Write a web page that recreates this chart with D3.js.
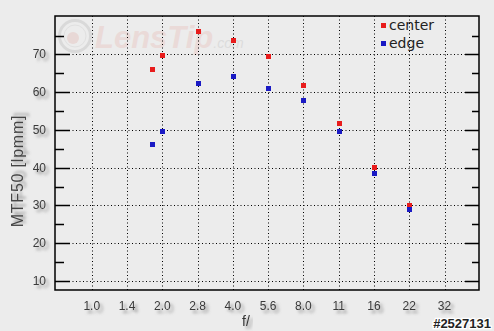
<!DOCTYPE html>
<html>
<head>
<meta charset="utf-8">
<script src="https://cdn.jsdelivr.net/npm/d3@7"></script>
<style>
  body { margin: 0; background: #ececec; }
  svg { display: block; }
  .tick-label { font-family: "Liberation Sans", Arial, sans-serif; font-size: 12px; fill: #3a3a3a; }
  .legend-label { font-family: "DejaVu Sans", sans-serif; font-size: 14px; fill: #222; }
</style>
</head>
<body>
<div id="chart"></div>
<script>
// data
var fStops = [1.8, 2.0, 2.83, 4.0, 5.66, 8.0, 11.3, 16.0, 22.6];
var center = [66.1, 69.8, 76.1, 73.8, 69.5, 61.8, 51.8, 40.1, 30.2];
var edge   = [46.2, 49.7, 62.4, 64.2, 61.0, 57.9, 49.7, 38.5, 29.1];
var xTickLabels = ["1.0", "1.4", "2.0", "2.8", "4.0", "5.6", "8.0", "11", "16", "22", "32"];
var yTicks = [10, 20, 30, 40, 50, 60, 70];
var yMinorTicks = [15, 25, 35, 45, 55, 65, 75];
var seriesNames = ["center", "edge"];
var seriesColors = ["#e81c1c", "#1a1ac4"];

var width = 494, height = 331;
var plot = {left: 55, top: 16, right: 479, bottom: 290};

var svg = d3.select("#chart").append("svg")
  .attr("width", width)
  .attr("height", height);

var defs = svg.append("defs");
var shadow = defs.append("filter").attr("id", "shadow")
  .attr("x", "-30%").attr("y", "-30%").attr("width", "160%").attr("height", "160%");
shadow.append("feDropShadow")
  .attr("dx", 3).attr("dy", 3).attr("stdDeviation", 1.8)
  .attr("flood-color", "#777").attr("flood-opacity", 0.75);

svg.append("rect").attr("width", width).attr("height", height).attr("fill", "#ececec");

var x = d3.scaleLog().base(2)
  .domain([0.697, 44.9])
  .range([plot.left, plot.right]);

var y = d3.scaleLinear()
  .domain([7.6, 80.2])
  .range([plot.bottom, plot.top]);

var xTickVals = xTickLabels.map(function(d, i){ return Math.pow(Math.SQRT2, i); });

// watermark
var wm = svg.append("g");
wm.append("circle").attr("cx", 75).attr("cy", 36).attr("r", 15.5)
  .attr("fill", "none").attr("stroke", "#d9d9d9").attr("stroke-width", 3);
wm.append("circle").attr("cx", 75).attr("cy", 36).attr("r", 11)
  .attr("fill", "none").attr("stroke", "#e0e0e0").attr("stroke-width", 1);
wm.append("circle").attr("cx", 73).attr("cy", 38).attr("r", 6)
  .attr("fill", "#e8d8d6");
var wmText = wm.append("text").attr("x", 95).attr("y", 48)
  .attr("font-family", "Liberation Sans, Arial, sans-serif")
  .attr("font-style", "italic");
wmText.append("tspan")
  .attr("font-size", 31).attr("font-weight", "bold")
  .attr("fill", "#eadad8")
  .text("LensTip");
wmText.append("tspan")
  .attr("font-size", 14)
  .attr("fill", "#dcdcdc")
  .text(".com");

// grid
var grid = svg.append("g")
  .attr("stroke", "#000")
  .attr("stroke-width", 1)
  .attr("stroke-dasharray", "1,2.5");

grid.selectAll(".hgrid")
  .data(yTicks)
  .enter().append("line")
    .attr("x1", plot.left).attr("x2", plot.right)
    .attr("y1", function(d){ return Math.round(y(d)) + 0.5; })
    .attr("y2", function(d){ return Math.round(y(d)) + 0.5; });

grid.selectAll(".vgrid")
  .data(xTickVals)
  .enter().append("line")
    .attr("x1", function(d){ return Math.round(x(d)) + 0.5; })
    .attr("x2", function(d){ return Math.round(x(d)) + 0.5; })
    .attr("y1", plot.top).attr("y2", plot.bottom);

// ticks left & right
var ticks = svg.append("g").attr("stroke", "#000").attr("stroke-width", 1.5);
ticks.selectAll(".lmaj").data(yTicks).enter().append("line")
  .attr("x1", plot.left).attr("x2", plot.left + 15)
  .attr("y1", function(d){ return Math.round(y(d)) + 0.5; })
  .attr("y2", function(d){ return Math.round(y(d)) + 0.5; });
ticks.selectAll(".lmin").data(yMinorTicks).enter().append("line")
  .attr("x1", plot.left).attr("x2", plot.left + 9)
  .attr("y1", function(d){ return Math.round(y(d)) + 0.5; })
  .attr("y2", function(d){ return Math.round(y(d)) + 0.5; });
ticks.selectAll(".rmaj").data(yTicks).enter().append("line")
  .attr("x1", plot.right - 14).attr("x2", plot.right)
  .attr("y1", function(d){ return Math.round(y(d)) + 0.5; })
  .attr("y2", function(d){ return Math.round(y(d)) + 0.5; });
ticks.selectAll(".rmin").data(yMinorTicks).enter().append("line")
  .attr("x1", plot.right - 7).attr("x2", plot.right)
  .attr("y1", function(d){ return Math.round(y(d)) + 0.5; })
  .attr("y2", function(d){ return Math.round(y(d)) + 0.5; });

// frame
svg.append("rect")
  .attr("x", plot.left).attr("y", plot.top)
  .attr("width", plot.right - plot.left).attr("height", plot.bottom - plot.top)
  .attr("fill", "none").attr("stroke", "#000").attr("stroke-width", 1.5);

// tick labels
svg.selectAll(".ylab").data(yTicks).enter().append("text")
  .attr("class", "tick-label")
  .attr("filter", "url(#shadow)")
  .attr("x", 46)
  .attr("y", function(d){ return y(d) + 4; })
  .attr("text-anchor", "end")
  .text(function(d){ return d; });

svg.selectAll(".xlab").data(xTickVals).enter().append("text")
  .attr("class", "tick-label")
  .attr("filter", "url(#shadow)")
  .attr("x", function(d){ return x(d); })
  .attr("y", 310)
  .attr("text-anchor", "middle")
  .text(function(d, i){ return xTickLabels[i]; });

// axis titles
svg.append("text")
  .attr("filter", "url(#shadow)")
  .attr("transform", "translate(23,171) rotate(-90)")
  .attr("text-anchor", "middle")
  .attr("font-family", "Liberation Sans, Arial, sans-serif")
  .attr("font-size", 16)
  .attr("letter-spacing", 0.8)
  .attr("fill", "#444")
  .text("MTF50 [lpmm]");

svg.append("text")
  .attr("filter", "url(#shadow)")
  .attr("x", 246).attr("y", 326)
  .attr("text-anchor", "middle")
  .attr("font-family", "Liberation Sans, Arial, sans-serif")
  .attr("font-size", 14)
  .attr("fill", "#333")
  .text("f/");

// points
var series = [center, edge];
series.forEach(function(vals, s){
  svg.append("g").selectAll("rect")
    .data(vals)
    .enter().append("rect")
      .attr("x", function(d, i){ return Math.round(x(fStops[i])) - 2; })
      .attr("y", function(d){ return Math.round(y(d)) - 2; })
      .attr("width", 5).attr("height", 5)
      .attr("fill", seriesColors[s]);
});

// legend
var legend = svg.append("g").attr("transform", "translate(381,23)");
seriesNames.forEach(function(name, i){
  legend.append("rect")
    .attr("x", 0).attr("y", i * 18)
    .attr("width", 5).attr("height", 5)
    .attr("fill", seriesColors[i]);
  legend.append("text")
    .attr("class", "legend-label")
    .attr("x", 8).attr("y", i * 18 + 7)
    .text(name);
});

// id stamp
svg.append("text")
  .attr("x", 491).attr("y", 328)
  .attr("text-anchor", "end")
  .attr("font-family", "Liberation Sans, Arial, sans-serif")
  .attr("font-size", 13)
  .attr("font-weight", "bold")
  .attr("stroke", "#fff").attr("stroke-width", 2.5)
  .attr("paint-order", "stroke")
  .attr("fill", "#222")
  .text("#2527131");
</script>
</body>
</html>
